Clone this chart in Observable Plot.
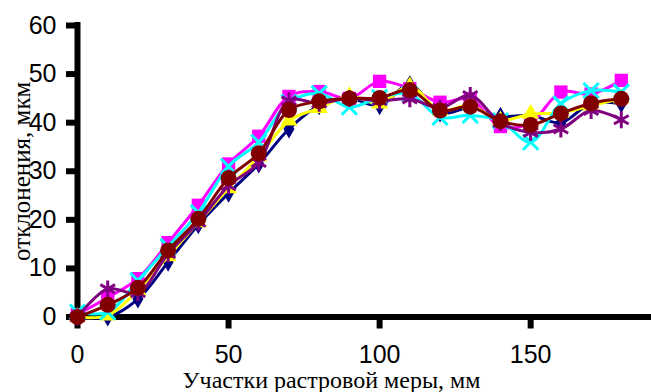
<!DOCTYPE html>
<html>
<head>
<meta charset="utf-8">
<script src="https://cdn.jsdelivr.net/npm/d3@7"></script>
<script src="https://cdn.jsdelivr.net/npm/@observablehq/plot@0.6"></script>
<style>
  html, body { margin: 0; padding: 0; background: #fff; }
  #chart svg { display: block; }
</style>
</head>
<body>
<div id="chart"></div>
<script>
// ---- data ----
const xs = [0, 10, 20, 30, 40, 50, 60, 70, 80, 90, 100, 110, 120, 130, 140, 150, 160, 170, 180];
const seriesNames = ["s1", "s2", "s3", "s4", "s5", "s6"];
const navySeries    = [0, 0, 3.7, 11.3, 19, 25.5, 31.5, 38.7, 43.5, 45, 43.5, 47.8, 42, 43, 41.3, 41.5, 40, 44, 43.9];
const magentaSeries = [0.5, 4, 7.9, 15.3, 23, 31.5, 37.2, 45.4, 46.4, 45, 48.5, 47, 44.2, 44.9, 39.2, 40, 46.3, 45.9, 48.7];
const yellowSeries  = [0, 0.3, 5.5, 12.5, 19.5, 26.5, 33, 40.4, 43, 45.5, 43.9, 47.5, 42.5, 43.5, 40.5, 41.8, 42, 43.5, 45];
const cyanSeries    = [1, 1, 7.5, 14.5, 21.5, 31, 36, 44.2, 46, 43.2, 45.2, 45.9, 41.1, 41.5, 40.4, 36, 43.9, 46.6, 46.3];
const purpleSeries  = [0, 5.8, 5, 13, 19.5, 27, 31.8, 44.5, 44, 45, 44.5, 44.9, 43, 45.6, 40, 38, 38.7, 42.5, 40.6];
const darkredSeries = [0, 2.5, 6, 13.7, 20.2, 28.6, 33.7, 42.6, 44.4, 45, 45.1, 46.7, 42.5, 43.3, 40.3, 39.5, 41.9, 44, 44.9];
const xTicks = [0, 50, 100, 150];
const yTicks = [0, 10, 20, 30, 40, 50, 60];
const xTitle = "Участки растровой меры, мм";
const yTitle = "отклонения, мкм";

// ---- styles ----
const styles = [
  {color: "#000080", symbol: "diamond", r: 5.8, fillMark: true},
  {color: "#FF00FF", symbol: "square", r: 7.5, fillMark: true},
  {color: "#FFFF00", symbol: "triangle", r: 6.3, fillMark: true},
  {color: "#00FFFF", symbol: "times", r: 7, fillMark: false},
  {color: "#800080", symbol: "asterisk", r: 8, fillMark: false},
  {color: "#800000", symbol: "circle", r: 8, fillMark: true}
];
const allSeries = [navySeries, magentaSeries, yellowSeries, cyanSeries, purpleSeries, darkredSeries];

const marks = [];
// axes lines
marks.push(Plot.ruleY([0], {stroke: "black", strokeWidth: 6}));
marks.push(Plot.ruleX([0], {y1: 0, y2: 60, stroke: "black", strokeWidth: 6, strokeLinecap: "square"}));
marks.push(Plot.axisY({ticks: yTicks, tickSize: 11, tickPadding: 10, tickFormat: d => String(d), label: null,
  strokeWidth: 6, stroke: "black", fill: "black", fontSize: 25}));
marks.push(Plot.axisX({ticks: xTicks, tickSize: 12, tickPadding: 16, tickFormat: d => String(d), label: null,
  strokeWidth: 6, stroke: "black", fill: "black", fontSize: 25}));

allSeries.forEach((vals, i) => {
  const st = styles[i];
  const rows = xs.map((x, j) => ({x, y: vals[j], s: seriesNames[i]}));
  marks.push(Plot.line(rows, {x: "x", y: "y", stroke: st.color, strokeWidth: 3, curve: "catmull-rom"}));
  marks.push(Plot.dot(rows, st.fillMark
    ? {x: "x", y: "y", symbol: () => st.symbol, r: st.r, fill: st.color, stroke: "none"}
    : {x: "x", y: "y", symbol: () => st.symbol, r: st.r, stroke: st.color, strokeWidth: 3, fill: "none"}));
});

// axis titles
marks.push(Plot.text([yTitle], {frameAnchor: "left", text: d => d, rotate: -90, dx: -56,
  fontFamily: "Liberation Serif", fontSize: 25, fill: "black", textAnchor: "middle", lineAnchor: "middle"}));
marks.push(Plot.text([xTitle], {frameAnchor: "bottom", text: d => d, dy: 63, dx: -33,
  fontFamily: "Liberation Serif", fontSize: 24, fill: "black", textAnchor: "middle", lineAnchor: "middle"}));

const chart = Plot.plot({
  width: 651,
  height: 392,
  marginLeft: 77,
  marginRight: 0,
  marginTop: 25,
  marginBottom: 75.5,
  style: {fontFamily: "Liberation Sans, Arial, sans-serif", fontSize: "25px", color: "black", background: "white", overflow: "visible"},
  x: {domain: [0, 190], label: null},
  y: {domain: [0, 60], label: null},
  marks
});
document.getElementById("chart").appendChild(chart);
</script>
</body>
</html>
